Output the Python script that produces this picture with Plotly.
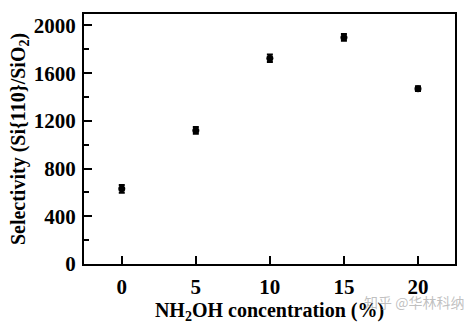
import plotly.graph_objects as go

conc = [0, 5, 10, 15, 20]
selectivity = [630, 1120, 1725, 1900, 1470]
err = [32, 28, 32, 28, 20]

y_major = [0, 400, 800, 1200, 1600, 2000]
x_ticks = [0, 5, 10, 15, 20]

font_fam = "Liberation Serif"

fig = go.Figure()
fig.add_trace(go.Scatter(
    x=conc, y=selectivity, mode="markers",
    marker=dict(color="black", size=7, symbol="circle"),
    error_y=dict(type="data", array=err, visible=True, color="black", thickness=2, width=3),
    showlegend=False,
))

axis_common = dict(
    showline=True, linecolor="black", linewidth=2, mirror=True,
    showgrid=False, zeroline=False, ticks="inside", tickcolor="black",
    tickwidth=2, tickfont=dict(family=font_fam, size=21, color="black", weight="bold"),
)

fig.update_xaxes(
    range=[-2.55, 22.5], tickvals=x_ticks, ticklen=8, ticklabelstandoff=3,
    title=dict(text="NH<sub>2</sub>OH concentration (%)", standoff=2,
               font=dict(family=font_fam, size=20, color="black", weight="bold")),
    **axis_common,
)
fig.update_yaxes(
    range=[0, 2096], tickvals=y_major, ticklen=8, ticklabelstandoff=2,
    minor=dict(dtick=200, ticks="inside", ticklen=5, tickcolor="black", tickwidth=2),
    title=dict(text="Selectivity (Si{110}/SiO<sub>2</sub>)", standoff=3,
               font=dict(family=font_fam, size=20, color="black", weight="bold")),
    **axis_common,
)

fig.add_annotation(
    text="知乎 @华林科纳", xref="paper", yref="paper", x=1.03, y=-0.15,
    xanchor="right", yanchor="middle", showarrow=False,
    font=dict(family="Noto Sans CJK SC", size=14, color="rgba(150,150,150,0.6)"),
)

fig.update_layout(
    width=472, height=327,
    margin=dict(l=84, r=17, t=12, b=53),
    plot_bgcolor="white", paper_bgcolor="white",
)

fig.write_html("out.html")
